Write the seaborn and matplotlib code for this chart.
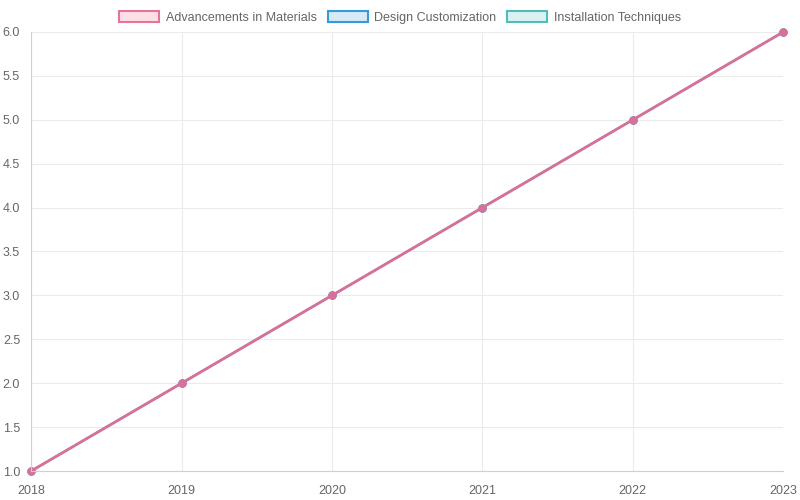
import matplotlib
matplotlib.use("Agg")
import matplotlib.pyplot as plt
import seaborn as sns
import pandas as pd
from matplotlib.patches import Patch

years = [2018, 2019, 2020, 2021, 2022, 2023]
materials = [1, 2, 3, 4, 5, 6]
design = [1, 2, 3, 4, 5, 6]
install = [1, 2, 3, 4, 5, 6]

series_names = ["Advancements in Materials", "Design Customization", "Installation Techniques"]
line_colors = ["#d8709a", "#3a9ad9", "#4bbdbd"]
line_widths = [2.0, 1.4, 1.4]
border_colors = ["#e8739a", "#3a9ad9", "#52bcbc"]
fill_colors = ["#fde0e6", "#d6eaf8", "#daf2f2"]

sns.set_style("white")
plt.rcParams['font.family'] = ['Liberation Sans', 'DejaVu Sans']

df = pd.DataFrame({"year": years * 3,
                   "value": materials + design + install,
                   "series": [series_names[0]] * 6 + [series_names[1]] * 6 + [series_names[2]] * 6})

fig = plt.figure(figsize=(8, 5), dpi=100)
ax = fig.add_axes([0.039, 0.058, 0.940, 0.878])

# draw in reverse so the first series sits on top
for name, col, lw in reversed(list(zip(series_names, line_colors, line_widths))):
    sub = df[df["series"] == name]
    sns.lineplot(data=sub, x="year", y="value", ax=ax, color=col, linewidth=lw,
                 marker="o", markersize=6, markeredgewidth=0, clip_on=False)

ax.set_xlim(2018, 2023)
ax.set_ylim(1.0, 6.0)
ax.set_xticks(years)
ax.set_yticks([1.0 + 0.5 * i for i in range(11)])
ax.set_yticklabels([f"{1.0 + 0.5 * i:.1f}" for i in range(11)])
ax.set_xlabel("")
ax.set_ylabel("")
ax.grid(True, color="#ebebeb", linewidth=0.8)
ax.set_axisbelow(True)
for s in ["top", "right"]:
    ax.spines[s].set_visible(False)
for s in ["left", "bottom"]:
    ax.spines[s].set_color("#d0d0d0")
ax.tick_params(axis="both", colors="#666666", labelsize=9, length=0)
ax.tick_params(axis="x", pad=10)
ax.tick_params(axis="y", pad=8)

handles = [Patch(facecolor=f, edgecolor=e, linewidth=1.5) for f, e in zip(fill_colors, border_colors)]
fig.legend(handles, series_names, loc="upper center", bbox_to_anchor=(0.5, 1.0), ncol=3,
           frameon=False, fontsize=9, handlelength=3.2, handleheight=0.9,
           columnspacing=0.9, handletextpad=0.5, labelcolor="#666666")

fig.savefig("out.png", dpi=100)
